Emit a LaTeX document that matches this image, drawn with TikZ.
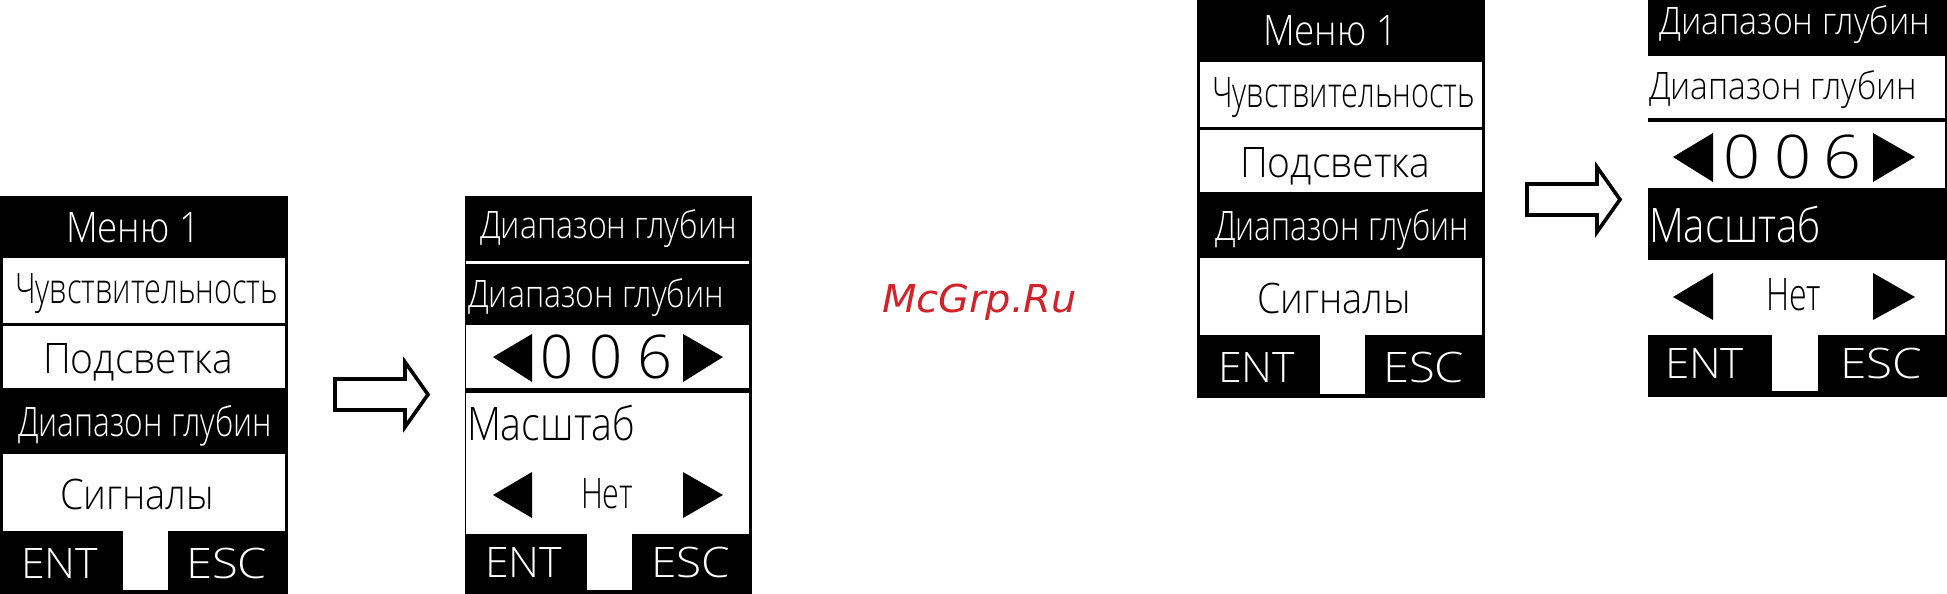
\documentclass[tikz,border=0pt]{standalone}
\usepackage{fontspec}
\usepackage{graphicx}
\setmainfont{Open Sans Light}
\newfontfamily\markfont{DejaVu Sans}
\definecolor{markred}{HTML}{D2232A}
\tikzset{
  panelbg/.style={fill=black,draw=none},
  panelwhite/.style={fill=white,draw=none},
  tri/.style={fill=black,draw=none},
  blockarrow/.style={draw=black,fill=white,line width=3.6pt,miter limit=10},
  lbl/.style={anchor=base west,inner sep=0pt,outer sep=0pt}
}
% name, colour, left x, baseline y, ink width, cap height, text
\newcommand{\lcdtext}[7]{%
  \node[lbl,text=#2] (#1) at (#3,#4)
    {\resizebox{#5pt}{\height}{\fontsize{\fpeval{#6/0.714}pt}{\fpeval{#6/0.714}pt}\selectfont #7}};}
\newcommand{\whitebox}[4]{\fill[panelwhite] (#1,#2) rectangle (#3,#4);}
\newcommand{\menupanel}[1]{%
  \fill[panelbg] (0,196) rectangle (288,594);
  \whitebox{3}{258}{285}{323}
  \whitebox{3}{326}{285}{388}
  \whitebox{3}{454}{285}{531}
  \whitebox{123}{531}{168}{590}
  \lcdtext{#1m}{white}{66}{242}{134}{30}{Меню 1}
  \lcdtext{#1a}{black}{15}{303}{263}{30}{Чувствительность}
  \lcdtext{#1b}{black}{43}{373}{190}{30}{Подсветка}
  \lcdtext{#1c}{white}{18}{436}{254}{29}{Диапазон глубин}
  \lcdtext{#1d}{black}{60}{509}{154}{30}{Сигналы}
  \lcdtext{#1e}{white}{21}{578}{77}{30}{ENT}
  \lcdtext{#1f}{white}{186}{578}{81}{30}{ESC}
}
\newcommand{\blockarr}[2]{%
  \begin{scope}[shift={(#1,#2)}]
  \draw[blockarrow] (335,379) -- (405,379) -- (405,362) -- (428,394.5) -- (405,427) -- (405,410) -- (335,410) -- cycle;
  \end{scope}}
\begin{document}
\begin{tikzpicture}[x=1pt,y=-1pt]
\useasboundingbox (0,0) rectangle (1947,594);
\fill[white] (0,0) rectangle (1947,594);

% panel 1
\menupanel{p}
\blockarr{0}{0}

% panel 2
\fill[panelbg] (465,196) rectangle (752,594);
\whitebox{466}{261}{749}{263.5}
\whitebox{466}{325}{749}{388}
\whitebox{466}{393}{749}{534}
\whitebox{587}{534}{632}{590}
\fill[tri] (493,357) -- (532,334) -- (532,382) -- cycle;
\fill[tri] (723,357) -- (683,334) -- (683,382) -- cycle;
\fill[tri] (493,495) -- (532,472) -- (532,518) -- cycle;
\fill[tri] (723,495) -- (683,472) -- (683,518) -- cycle;
\lcdtext{qh}{white}{480}{238}{257}{27}{Диапазон глубин}
\lcdtext{qs}{white}{468}{307}{256}{27}{Диапазон глубин}
\lcdtext{qd}{black}{540}{378}{33}{43}{0}
\lcdtext{qe}{black}{589}{378}{33}{43}{0}
\lcdtext{qg}{black}{637}{378}{35}{43}{6}
\lcdtext{qm}{black}{467}{440}{168}{33}{Масштаб}
\lcdtext{qn}{black}{581}{508}{52}{30}{Нет}
\lcdtext{qo}{white}{485}{577}{77}{30}{ENT}
\lcdtext{qp}{white}{651}{577}{79}{30}{ESC}

% watermark
\node[lbl,text=markred] (wm) at (882,312) {\resizebox{195pt}{\height}{\markfont\itshape\fontsize{38.4pt}{38.4pt}\selectfont McGrp.Ru}};

% panel 3
\begin{scope}[shift={(1197,-196)}]
\menupanel{r}
\blockarr{-5}{1}
\end{scope}

% panel 4
\fill[panelbg] (1648,0) rectangle (1947,397);
\whitebox{1648}{56}{1945}{118}
\whitebox{1648}{122}{1945}{188}
\whitebox{1648}{260}{1945}{335}
\whitebox{1772}{335}{1818}{391}
\fill[tri] (1673,157) -- (1713,133) -- (1713,182) -- cycle;
\fill[tri] (1915,157) -- (1873,133) -- (1873,182) -- cycle;
\fill[tri] (1673,297) -- (1713,273) -- (1713,320) -- cycle;
\fill[tri] (1915,297) -- (1873,273) -- (1873,320) -- cycle;
\lcdtext{sh}{white}{1659}{35}{271}{27}{Диапазон глубин}
\lcdtext{ss}{black}{1649}{100}{268}{27}{Диапазон глубин}
\lcdtext{sd}{black}{1723}{178}{37}{43}{0}
\lcdtext{se}{black}{1774}{178}{37}{43}{0}
\lcdtext{sg}{black}{1823}{178}{38}{43}{6}
\lcdtext{sm}{white}{1649}{242}{172}{34}{Масштаб}
\lcdtext{sn}{black}{1766}{310}{55}{32}{Нет}
\lcdtext{so}{white}{1665}{378}{79}{30}{ENT}
\lcdtext{sp}{white}{1840}{378}{82}{30}{ESC}
\end{tikzpicture}
\end{document}
